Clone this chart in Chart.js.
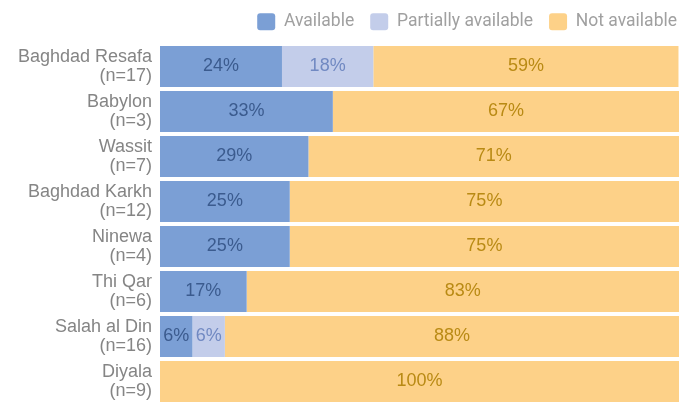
<!DOCTYPE html>
<html>
<head>
<meta charset="utf-8">
<script src="https://cdn.jsdelivr.net/npm/chart.js@4/dist/chart.umd.min.js"></script>
<style>
  html, body { margin: 0; padding: 0; background: #fff; }
  #wrap { width: 692px; height: 405px; }
</style>
</head>
<body>
<div id="wrap"><canvas id="chart"></canvas></div>
<script>
const governorates = [
  ['Baghdad Resafa', '(n=17)'],
  ['Babylon', '(n=3)'],
  ['Wassit', '(n=7)'],
  ['Baghdad Karkh', '(n=12)'],
  ['Ninewa', '(n=4)'],
  ['Thi Qar', '(n=6)'],
  ['Salah al Din', '(n=16)'],
  ['Diyala', '(n=9)']
];
const available = [23.5, 33.3, 28.6, 25, 25, 16.7, 6.25, 0];
const partiallyAvailable = [17.6, 0, 0, 0, 0, 0, 6.25, 0];
const notAvailable = [58.8, 66.7, 71.4, 75, 75, 83.3, 87.5, 100];

const labelFont = '"Liberation Sans", Arial, sans-serif';

// draws the percentage in the middle of each segment
const segmentLabels = {
  id: 'segmentLabels',
  beforeInit(chart) {
    // fixed legend height and a small shift, to match the original spacing
    const legend = chart.legend;
    const fit = legend.fit;
    legend.fit = function () {
      fit.call(this);
      this.height = 44;
    };
    const draw = legend.draw;
    legend.draw = function () {
      chart.ctx.save();
      chart.ctx.translate(14, -3);
      draw.call(this);
      chart.ctx.restore();
    };
  },
  afterDatasetsDraw(chart) {
    const ctx = chart.ctx;
    ctx.save();
    ctx.font = '18px ' + labelFont;
    ctx.textAlign = 'center';
    ctx.textBaseline = 'middle';
    chart.data.datasets.forEach((ds, i) => {
      const meta = chart.getDatasetMeta(i);
      meta.data.forEach((bar, j) => {
        const v = ds.data[j];
        if (!v) return;
        ctx.fillStyle = ds.labelColor;
        ctx.fillText(Math.round(v) + '%', (bar.x + bar.base) / 2, bar.y);
      });
    });
    ctx.restore();
  }
};

new Chart(document.getElementById('chart'), {
  type: 'bar',
  data: {
    labels: governorates,
    datasets: [
      {
        label: 'Available',
        data: available,
        backgroundColor: '#7b9fd5',
        labelColor: '#3b5b8e'
      },
      {
        label: 'Partially available',
        data: partiallyAvailable,
        backgroundColor: '#c3cdea',
        labelColor: '#7189c2'
      },
      {
        label: 'Not available',
        data: notAvailable,
        backgroundColor: '#fdd188',
        labelColor: '#b98a14'
      }
    ]
  },
  options: {
    indexAxis: 'y',
    responsive: true,
    maintainAspectRatio: false,
    animation: false,
    layout: { padding: { left: 0, right: 13, top: 0, bottom: 1 } },
    datasets: {
      bar: { barPercentage: 0.91, categoryPercentage: 1, borderWidth: 0 }
    },
    scales: {
      x: {
        stacked: true,
        min: 0,
        max: 100,
        display: false
      },
      y: {
        stacked: true,
        grid: { display: false, drawTicks: false },
        border: { display: false },
        afterFit(axis) {
          axis.width = 160;
          axis.paddingTop = 0;
          axis.paddingBottom = 0;
        },
        ticks: {
          color: '#858585',
          font: { size: 18, family: labelFont, lineHeight: 1.05 },
          padding: 8
        }
      }
    },
    plugins: {
      legend: {
        position: 'top',
        align: 'end',
        labels: {
          color: '#a0a0a0',
          font: { size: 17.5, family: 'Roboto, "Noto Sans", sans-serif' },
          boxWidth: 18,
          boxHeight: 17,
          useBorderRadius: true,
          borderRadius: 3,
          padding: 16
        }
      },
      tooltip: { enabled: false }
    }
  },
  plugins: [segmentLabels]
});
</script>
</body>
</html>
